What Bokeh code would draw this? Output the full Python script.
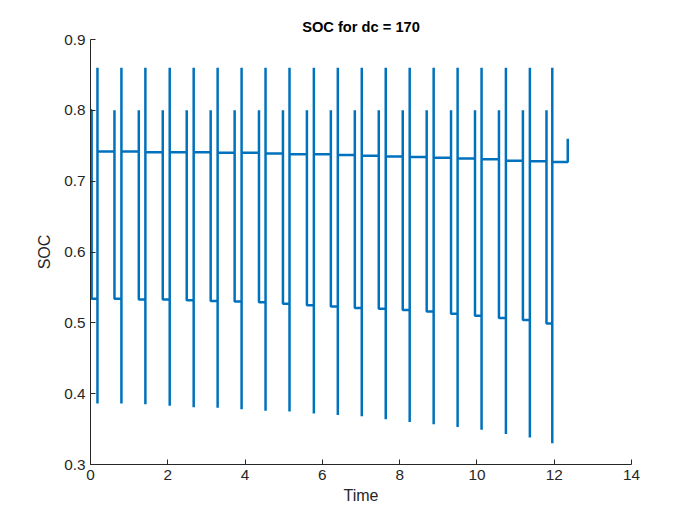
from bokeh.plotting import figure
from bokeh.embed import file_html
from bokeh.resources import INLINE
from bokeh.models import Label, FixedTicker

# per-cycle readings (time in seconds)
spike_t = [0.18e6, 0.80e6, 1.42e6, 2.05e6, 2.67e6, 3.29e6, 3.91e6, 4.53e6, 5.15e6, 5.78e6,
           6.40e6, 7.02e6, 7.64e6, 8.26e6, 8.88e6, 9.50e6, 10.12e6, 10.75e6, 11.37e6, 11.95e6]
spike_low = [0.386, 0.386, 0.385, 0.383, 0.381, 0.380, 0.378, 0.376, 0.375, 0.372,
             0.370, 0.368, 0.364, 0.360, 0.357, 0.353, 0.349, 0.343, 0.338, 0.330]
spike_high = [0.86] * 20
upper = [0.742, 0.742, 0.741, 0.741, 0.741, 0.740, 0.740, 0.739, 0.738, 0.738,
         0.737, 0.736, 0.735, 0.734, 0.733, 0.732, 0.731, 0.729, 0.728, 0.727]
lower = [0.534, 0.534, 0.533, 0.533, 0.532, 0.531, 0.530, 0.529, 0.527, 0.525,
         0.523, 0.521, 0.520, 0.518, 0.516, 0.513, 0.510, 0.507, 0.504, 0.499]
riser_t = [0.62e6, 1.25e6, 1.87e6, 2.49e6, 3.11e6, 3.73e6, 4.36e6, 4.98e6, 5.60e6, 6.22e6,
           6.84e6, 7.46e6, 8.08e6, 8.70e6, 9.33e6, 9.95e6, 10.57e6, 11.19e6, 11.80e6]
riser_top = [0.80] * 19
end_t, end_soc = 12.35e6, 0.76

xs, ys = [0.0, 0.0, 0.03e6, 0.03e6, 0.05e6, 0.05e6], [0.575, 0.80, 0.80, 0.534, 0.534, 0.534]
for i, t in enumerate(spike_t):
    xs += [t, t, t, t, t]
    ys += [lower[i], spike_high[i], spike_low[i], spike_high[i], upper[i]]
    if i < len(riser_t):
        r = riser_t[i]
        xs += [r, r, r]
        ys += [upper[i], riser_top[i], lower[i + 1]]
xs += [end_t, end_t]
ys += [upper[-1], end_soc]

p = figure(width=684, height=517, output_backend="svg", toolbar_location=None,
           x_range=(0, 14e6), y_range=(0.3, 0.9),
           min_border_left=90, min_border_right=53, min_border_top=39, min_border_bottom=53,
           title="SOC for dc = 170")
p.line(xs, ys, line_color="#0072BD", line_width=2.5)

p.title.align = "center"
p.title.text_font = "Liberation Sans"
p.title.text_font_size = "11pt"
p.title.text_color = "#000000"
p.outline_line_color = None
p.grid.visible = False

p.xaxis.ticker = FixedTicker(ticks=[i * 2e6 for i in range(8)])
p.xaxis.major_label_overrides = {i * 2e6: str(i * 2) for i in range(8)}
p.yaxis.ticker = FixedTicker(ticks=[0.3, 0.4, 0.5, 0.6, 0.7, 0.8, 0.9])
p.xaxis.axis_label = "Time"
p.yaxis.axis_label = "SOC"
for ax in (p.xaxis, p.yaxis):
    ax.axis_line_color = "#262626"
    ax.major_tick_line_color = "#262626"
    ax.major_tick_in = 5
    ax.major_tick_out = 0
    ax.minor_tick_line_color = None
    ax.major_label_text_font = "Liberation Sans"
    ax.major_label_text_font_size = "11.5pt"
    ax.major_label_text_color = "#262626"
    ax.axis_label_text_font = "Liberation Sans"
    ax.axis_label_text_font_size = "12pt"
    ax.axis_label_text_font_style = "normal"
    ax.axis_label_text_color = "#262626"
p.xaxis.axis_label_standoff = 4
p.yaxis.axis_label_standoff = 8

p.add_layout(Label(x=14e6, y=0.3, x_offset=-38, y_offset=-51, text="×10", text_font="Liberation Sans",
                   text_font_size="10pt", text_color="#262626"))
p.add_layout(Label(x=14e6, y=0.3, x_offset=-9, y_offset=-46, text="6", text_font="Liberation Sans",
                   text_font_size="8pt", text_color="#262626"))

open("out.html", "w").write(file_html(p, INLINE))
